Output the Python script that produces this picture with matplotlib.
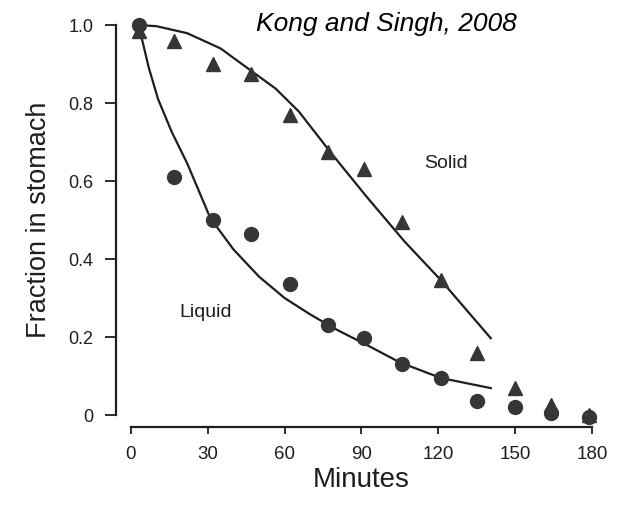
import matplotlib
matplotlib.use("Agg")
import matplotlib.pyplot as plt

# Measured points (minutes, fraction remaining)
minutes = [3, 17, 32, 47, 62, 77, 91, 106, 121, 135, 150, 164, 179]
solid = [0.985, 0.96, 0.90, 0.875, 0.77, 0.675, 0.63, 0.495, 0.345, 0.16, 0.07, 0.025, 0.0]
liquid = [1.0, 0.61, 0.50, 0.465, 0.335, 0.23, 0.197, 0.13, 0.095, 0.035, 0.02, 0.005, -0.005]

# Fitted curves
solid_fit_t = [3, 10, 22, 35, 47.5, 56.5, 65.6, 78.4, 92, 106.7, 121, 140.5]
solid_fit_y = [1.0, 0.997, 0.979, 0.94, 0.88, 0.837, 0.778, 0.67, 0.56, 0.446, 0.346, 0.197]
liquid_fit_t = [3, 7, 10.6, 16, 22, 31, 40, 50, 60, 70, 80, 92, 105, 121, 140.5]
liquid_fit_y = [1.0, 0.89, 0.81, 0.725, 0.645, 0.505, 0.425, 0.355, 0.30, 0.258, 0.22, 0.18, 0.135, 0.095, 0.069]

x_ticks = [0, 30, 60, 90, 120, 150, 180]
y_ticks = [0, 0.2, 0.4, 0.6, 0.8, 1.0]
y_tick_labels = ["0", "0.2", "0.4", "0.6", "0.8", "1.0"]

plt.rcParams["font.family"] = ["Liberation Sans", "DejaVu Sans"]
ink = "#1e1e1e"

fig = plt.figure(figsize=(6.28, 5.05), dpi=100)
ax = fig.add_axes([0.184, 0.155, 0.783, 0.8186])

ax.plot(solid_fit_t, solid_fit_y, color=ink, lw=1.6, zorder=2)
ax.plot(liquid_fit_t, liquid_fit_y, color=ink, lw=1.6, zorder=2)
ax.plot(minutes, liquid, "o", color="#363636", ms=10, zorder=3)
ax.plot(minutes, solid, "^", color="#363636", ms=10, zorder=3)

ax.set_xlim(-6, 186)
ax.set_ylim(-0.03, 1.03)
ax.spines["top"].set_visible(False)
ax.spines["right"].set_visible(False)
ax.spines["left"].set_bounds(0, 1.0)
ax.spines["bottom"].set_bounds(0, 180)
for s in ("left", "bottom"):
    ax.spines[s].set_linewidth(1.6)
    ax.spines[s].set_color(ink)

ax.set_xticks(x_ticks)
ax.set_yticks(y_ticks)
ax.set_yticklabels(y_tick_labels)
ax.tick_params(axis="y", length=8, width=1.3, pad=8, labelsize=13, colors=ink)
ax.tick_params(axis="x", length=5, width=1.3, pad=9, labelsize=13.5, colors=ink)

ax.set_xlabel("Minutes", fontsize=20, color=ink)
ax.xaxis.set_label_coords(0.5, -0.098)
ax.set_ylabel("Fraction in stomach", fontsize=19.5, color=ink)
ax.yaxis.set_label_coords(-0.13, 0.5)

ax.text(123, 0.645, "Solid", fontsize=14, ha="center", va="center", color=ink)
ax.text(29, 0.262, "Liquid", fontsize=14, ha="center", va="center", color=ink)

fig.text(0.615, 0.952, "Kong and Singh, 2008", fontsize=19, style="italic",
         ha="center", va="center", color="black")

fig.savefig("out.png", dpi=100)
